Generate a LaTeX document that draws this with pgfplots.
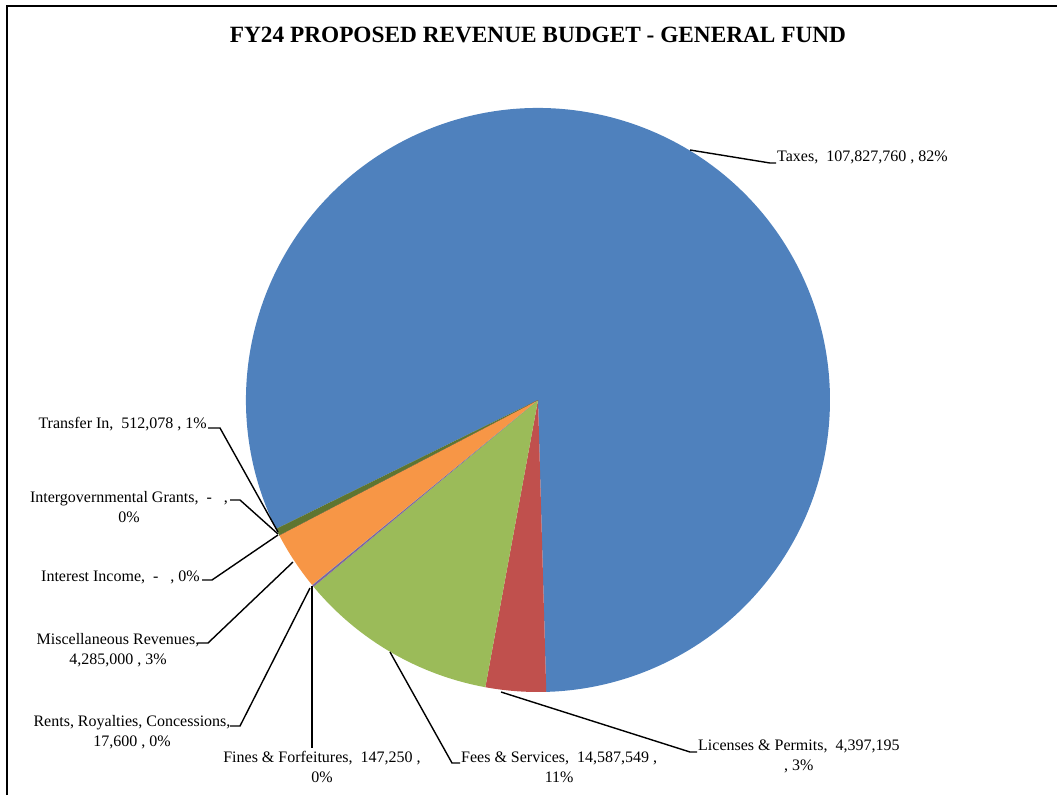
\documentclass[border=0pt]{standalone}
\usepackage{fontspec}
\setmainfont{Liberation Serif}
\usepackage{pgfplots}
\usepackage{pgfplotstable}
\pgfplotsset{compat=1.18}

\definecolor{cTax}{HTML}{4F81BD}
\definecolor{cLic}{HTML}{C0504D}
\definecolor{cFee}{HTML}{9BBB59}
\definecolor{cFin}{HTML}{8064A2}
\definecolor{cRen}{HTML}{4BACC6}
\definecolor{cMis}{HTML}{F79646}
\definecolor{cInt}{HTML}{2C4D75}
\definecolor{cGra}{HTML}{772C2A}
\definecolor{cTra}{HTML}{5F7530}

% FY24 general fund revenue, in the order Excel draws the slices (clockwise)
\pgfplotstableread{
value      col
107827760  cTax
4397195    cLic
14587549   cFee
147250     cFin
17600      cRen
4285000    cMis
0          cInt
0          cGra
512078     cTra
}\revtable

\pgfplotstablegetrowsof{\revtable}
\pgfmathtruncatemacro\lastrow{\pgfplotsretval-1}
\gdef\revtotal{0}
\foreach \i in {0,...,\lastrow}{%
  \pgfplotstablegetelem{\i}{value}\of\revtable
  \xdef\revtotal{\fpeval{\revtotal+\pgfplotsretval}}%
}

\tikzset{lab/.style={inner sep=0pt, font=\fontsize{16}{20}\selectfont}}

\begin{document}
\begin{tikzpicture}
\begin{axis}[
  at={(0,0)}, anchor=south west,
  scale only axis, width=1057pt, height=795pt,
  xmin=0, xmax=1057, ymin=0, ymax=795,
  y dir=reverse,
  hide axis, clip=false,
]
% pie slices, angles from the table values
\pgfplotsextra{%
  \xdef\curang{206.2}%
  \foreach \i in {0,...,\lastrow}{%
    \pgfplotstablegetelem{\i}{value}\of\revtable \let\v\pgfplotsretval
    \pgfplotstablegetelem{\i}{col}\of\revtable \let\c\pgfplotsretval
    \xdef\nextang{\fpeval{\curang-\v/\revtotal*360}}%
    \fill[\c] (axis cs:538,400) -- ++(\curang:292pt)
      arc[start angle=\curang, end angle=\nextang, radius=292pt] -- cycle;
    \xdef\curang{\nextang}%
  }%
}

% leader lines
\pgfplotsset{leader/.style={black, line width=1.4pt, no marks, forget plot}}
\addplot[leader] coordinates {(690,150) (770,163) (776,163)};
\addplot[leader] coordinates {(501,692) (690,752) (697,752)};
\addplot[leader] coordinates {(390,652) (452,763) (460,763)};
\addplot[leader] coordinates {(312,586) (312,748)};
\addplot[leader] coordinates {(310,588) (240,726) (230,726)};
\addplot[leader] coordinates {(293,562) (208,643) (198,643)};
\addplot[leader] coordinates {(278,535) (212,580) (202,580)};
\addplot[leader] coordinates {(278,534) (240,500) (230,500)};
\addplot[leader] coordinates {(278,532) (220,428) (208,428)};

% frame (top and left edges only)
\draw[black, line width=2pt] (axis cs:6.5,795) -- (axis cs:6.5,5.5) -- (axis cs:1057,5.5);

% title
\node[inner sep=0pt, font=\fontsize{23.3}{26}\selectfont\bfseries] at (axis cs:538,35) {FY24 PROPOSED REVENUE BUDGET - GENERAL FUND};

% data labels
\node[lab, anchor=west] at (axis cs:777,157) {Taxes,\ \ 107,827,760 , 82\%};
\node[lab, align=center, anchor=north west] at (axis cs:698,740) {Licenses \& Permits,\ \ 4,397,195\\, 3\%};
\node[lab, align=center, anchor=north west] at (axis cs:461,752) {Fees \& Services,\ \ 14,587,549 ,\\11\%};
\node[lab, align=center] at (axis cs:322,767) {Fines \& Forfeitures,\ \ 147,250 ,\\0\%};
\node[lab, align=center] at (axis cs:132,732) {Rents, Royalties, Concessions,\\17,600 , 0\%};
\node[lab, align=center] at (axis cs:118,650) {Miscellaneous Revenues,\\4,285,000 , 3\%};
\node[lab, anchor=east] at (axis cs:200,577) {Interest Income,\ \ -\ \ \ , 0\%};
\node[lab, align=center] at (axis cs:129,507) {Intergovernmental Grants,\ \ -\ \ \ ,\\0\%};
\node[lab, anchor=east] at (axis cs:207,424) {Transfer In,\ \ 512,078 , 1\%};
\end{axis}
\pgfresetboundingbox
\useasboundingbox (0,0) rectangle (1057pt,795pt);
\end{tikzpicture}
\end{document}
